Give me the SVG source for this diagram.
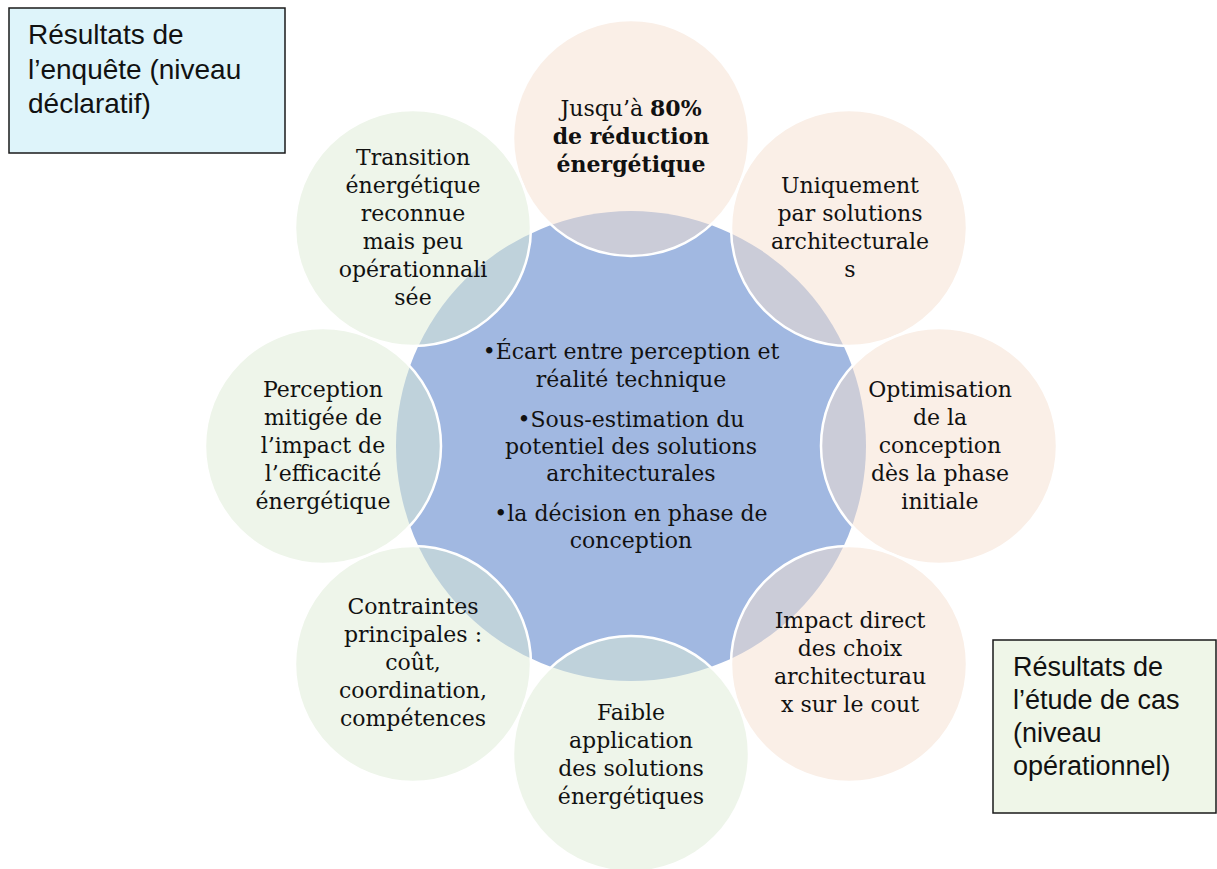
<svg xmlns="http://www.w3.org/2000/svg" width="1217" height="869" viewBox="0 0 1217 869">
<style>
.bg{fill:#ffffff}
.hub{fill:#A1B8E1}
.peach{fill:#F6E0D0;fill-opacity:0.5;stroke:#ffffff;stroke-width:2.5}
.green{fill:#DDEBD5;fill-opacity:0.5;stroke:#ffffff;stroke-width:2.5}
.t{font-family:"DejaVu Serif","Liberation Serif",serif;font-size:22px;fill:#111111;text-anchor:middle}
.b{font-weight:bold}
.box{stroke:#1a1a1a;stroke-width:1.5}
.bt{font-family:"Liberation Sans",Arial,sans-serif;font-size:27px;fill:#111111}
.bt28{font-size:28px}
</style>
<rect class="bg" x="0" y="0" width="1217" height="869"/>
<g id="hub">
<circle class="hub" cx="631" cy="446" r="235"/>
</g>
<g id="n-top">
<circle class="peach" cx="631" cy="138" r="118"/>
<text class="t" x="631" y="116">Jusqu’à <tspan class="b">80%</tspan></text>
<text class="t b" x="631" y="144">de réduction</text>
<text class="t b" x="631" y="172">énergétique</text>
</g>
<g id="n-topright">
<circle class="peach" cx="849" cy="228" r="118"/>
<text class="t" x="850" y="193">Uniquement</text>
<text class="t" x="850" y="221">par solutions</text>
<text class="t" x="850" y="249">architecturale</text>
<text class="t" x="850" y="277">s</text>
</g>
<g id="n-right">
<circle class="peach" cx="939" cy="446" r="118"/>
<text class="t" x="940" y="397">Optimisation</text>
<text class="t" x="940" y="425">de la</text>
<text class="t" x="940" y="453">conception</text>
<text class="t" x="940" y="481">dès la phase</text>
<text class="t" x="940" y="509">initiale</text>
</g>
<g id="n-bottomright">
<circle class="peach" cx="849" cy="664" r="118"/>
<text class="t" x="850" y="628">Impact direct</text>
<text class="t" x="850" y="656">des choix</text>
<text class="t" x="850" y="684">architecturau</text>
<text class="t" x="850" y="712">x sur le cout</text>
</g>
<g id="n-bottom">
<circle class="green" cx="631" cy="754" r="118"/>
<text class="t" x="631" y="720">Faible</text>
<text class="t" x="631" y="748">application</text>
<text class="t" x="631" y="776">des solutions</text>
<text class="t" x="631" y="804">énergétiques</text>
</g>
<g id="n-bottomleft">
<circle class="green" cx="413" cy="664" r="118"/>
<text class="t" x="413" y="614">Contraintes</text>
<text class="t" x="413" y="642">principales :</text>
<text class="t" x="413" y="670">coût,</text>
<text class="t" x="413" y="698">coordination,</text>
<text class="t" x="413" y="726">compétences</text>
</g>
<g id="n-left">
<circle class="green" cx="323" cy="446" r="118"/>
<text class="t" x="323" y="397">Perception</text>
<text class="t" x="323" y="425">mitigée de</text>
<text class="t" x="323" y="453">l’impact de</text>
<text class="t" x="323" y="481">l’efficacité</text>
<text class="t" x="323" y="509">énergétique</text>
</g>
<g id="n-topleft">
<circle class="green" cx="413" cy="228" r="118"/>
<text class="t" x="413" y="165">Transition</text>
<text class="t" x="413" y="193">énergétique</text>
<text class="t" x="413" y="221">reconnue</text>
<text class="t" x="413" y="249">mais peu</text>
<text class="t" x="413" y="277">opérationnali</text>
<text class="t" x="413" y="305">sée</text>
</g>
<g id="hub-text">
<text class="t" x="631" y="359">•Écart entre perception et</text>
<text class="t" x="631" y="387">réalité technique</text>
<text class="t" x="631" y="427">•Sous-estimation du</text>
<text class="t" x="631" y="454">potentiel des solutions</text>
<text class="t" x="631" y="481">architecturales</text>
<text class="t" x="631" y="521">•la décision en phase de</text>
<text class="t" x="631" y="548">conception</text>
</g>
<g id="box-enquete">
<rect class="box" x="9" y="8" width="276" height="145" fill="#DEF4FA"/>
<text class="bt bt28" x="28" y="44">Résultats de</text>
<text class="bt bt28" x="28" y="79">l’enquête (niveau</text>
<text class="bt bt28" x="28" y="113">déclaratif)</text>
</g>
<g id="box-etude">
<rect class="box" x="993" y="640" width="223" height="173" fill="#EFF6E8"/>
<text class="bt" x="1013" y="676">Résultats de</text>
<text class="bt" x="1013" y="709">l’étude de cas</text>
<text class="bt" x="1013" y="742">(niveau</text>
<text class="bt" x="1013" y="775">opérationnel)</text>
</g>
</svg>
